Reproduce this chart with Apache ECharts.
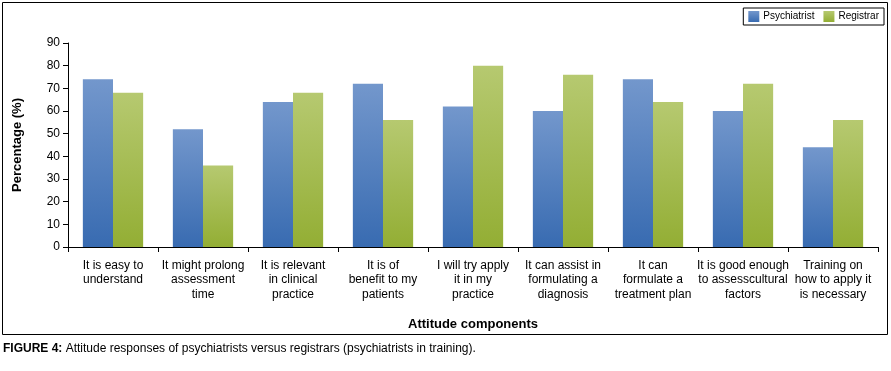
<!DOCTYPE html>
<html>
<head>
<meta charset="utf-8">
<script src="https://cdn.jsdelivr.net/npm/echarts@6/dist/echarts.min.js"></script>
<style>
  html, body { margin: 0; padding: 0; background: #fff; }
  #chart { width: 891px; height: 371px; }
</style>
</head>
<body>
<div id="chart"></div>
<script>
  // data
  const categories = [
    'It is easy to\nunderstand',
    'It might prolong\nassessment\ntime',
    'It is relevant\nin clinical\npractice',
    'It is of\nbenefit to my\npatients',
    'I will try apply\nit in my\npractice',
    'It can assist in\nformulating a\ndiagnosis',
    'It can\nformulate a\ntreatment plan',
    'It is good enough\nto assesscultural\nfactors',
    'Training on\nhow to apply it\nis necessary'
  ];
  const psychiatrist = [74, 52, 64, 72, 62, 60, 74, 60, 44];
  const registrar = [68, 36, 68, 56, 80, 76, 64, 72, 56];
  const yTicks = { min: 0, max: 90, interval: 10 };

  const FONT = '"Liberation Sans Narrow", "Liberation Sans", sans-serif';

  function grad(top, bottom) {
    return new echarts.graphic.LinearGradient(0, 0, 0, 1, [
      { offset: 0, color: top },
      { offset: 1, color: bottom }
    ]);
  }

  const chart = echarts.init(document.getElementById('chart'));
  chart.setOption({
    animation: false,
    textStyle: { fontFamily: FONT },
    grid: { left: 68, right: 13, top: 43, bottom: 124 },
    legend: {
      data: ['Psychiatrist', 'Registrar'],
      right: 7, top: 8,
      icon: 'rect',
      itemWidth: 11, itemHeight: 11, itemGap: 9,
      padding: [3, 5, 3, 5],
      borderColor: '#000', borderWidth: 1,
      textStyle: { fontSize: 10, color: '#000', fontFamily: FONT, padding: [0, 0, 0, -1] }
    },
    xAxis: {
      type: 'category',
      data: categories,
      name: 'Attitude components',
      nameLocation: 'middle',
      nameGap: 71,
      nameTextStyle: { fontSize: 13, fontWeight: 'bold', color: '#000', fontFamily: FONT },
      axisLine: { lineStyle: { color: '#000', width: 1 } },
      axisTick: { show: true, length: 5, lineStyle: { color: '#000' } },
      axisLabel: { interval: 0, fontSize: 12, lineHeight: 14.5, color: '#000', margin: 11 }
    },
    yAxis: {
      type: 'value',
      min: yTicks.min, max: yTicks.max, interval: yTicks.interval,
      name: 'Percentage (%)',
      nameLocation: 'middle',
      nameGap: 44,
      nameTextStyle: { fontSize: 13, fontWeight: 'bold', color: '#000', fontFamily: FONT },
      axisLine: { show: true, lineStyle: { color: '#000', width: 1 } },
      axisTick: { show: true, length: 5, lineStyle: { color: '#000' } },
      splitLine: { show: false },
      axisLabel: { fontSize: 12, color: '#000', margin: 8 }
    },
    series: [{
      name: 'Psychiatrist',
      type: 'bar',
      data: psychiatrist,
      barGap: '0%',
      barCategoryGap: '33%',
      itemStyle: { color: grad('#7397cc', '#386bb1') }
    }, {
      name: 'Registrar',
      type: 'bar',
      data: registrar,
      itemStyle: { color: grad('#b6c970', '#93ae34') }
    }],
    graphic: [{
      type: 'rect',
      shape: { x: 2.5, y: 2.5, width: 885, height: 332 },
      style: { fill: 'none', stroke: '#000', lineWidth: 1 },
      silent: true
    }, {
      type: 'text',
      left: 3, top: 343,
      style: {
        text: '{b|FIGURE 4:} Attitude responses of psychiatrists versus registrars (psychiatrists in training).',
        font: '12px ' + FONT,
        fill: '#000',
        rich: { b: { fontWeight: 'bold', fontSize: 12, fontFamily: FONT, fill: '#000' } }
      }
    }]
  });
</script>
</body>
</html>
